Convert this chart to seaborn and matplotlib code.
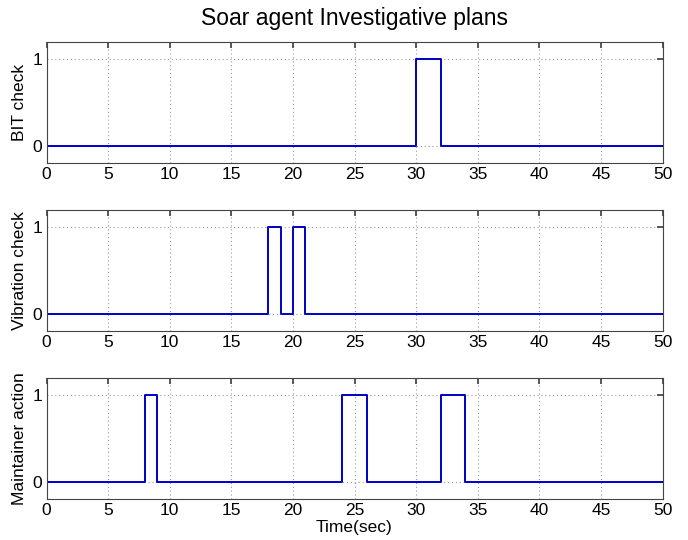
import matplotlib
matplotlib.use("Agg")
import matplotlib.pyplot as plt
import seaborn as sns
import pandas as pd

sns.set_theme(style="white")
plt.rcParams['font.family'] = ['Liberation Sans', 'DejaVu Sans']
plt.rcParams['text.color'] = 'black'
plt.rcParams['axes.labelcolor'] = 'black'

title = "Soar agent Investigative plans"
xlabel = "Time(sec)"
ylabels = ["BIT check", "Vibration check", "Maintainer action"]

# step transitions (time, value) held until next time
bit_t = [0, 30, 32, 50]
bit_v = [0, 1, 0, 0]
vib_t = [0, 18, 19, 20, 21, 50]
vib_v = [0, 1, 0, 1, 0, 0]
mnt_t = [0, 8, 9, 24, 26, 32, 34, 50]
mnt_v = [0, 1, 0, 1, 0, 1, 0, 0]

xticks = [0, 5, 10, 15, 20, 25, 30, 35, 40, 45, 50]
yticks = [0, 1]

series = [(bit_t, bit_v), (vib_t, vib_v), (mnt_t, mnt_v)]

fig = plt.figure(figsize=(6.88, 5.4), dpi=100)
left = 46.5 / 688
width = 616 / 688
tops = [42, 210, 378]
h = 121
axes = []
for i, (tt, vv) in enumerate(series):
    ax = fig.add_axes([left, 1 - (tops[i] + h) / 540, width, h / 540])
    df = pd.DataFrame({"t": tt, "v": vv})
    sns.lineplot(data=df, x="t", y="v", ax=ax, drawstyle="steps-post",
                 color="#0000c8", linewidth=1.4, estimator=None, sort=False)
    ax.set_xlim(0, 50)
    ax.set_ylim(-0.2, 1.2)
    ax.set_xticks(xticks)
    ax.set_yticks(yticks)
    ax.set_xticklabels([str(x) for x in xticks], fontsize=12.5)
    ax.set_yticklabels([str(y) for y in yticks], fontsize=12.5)
    ax.set_ylabel(ylabels[i], fontsize=12.5, labelpad=4, color="black")
    ax.set_xlabel(xlabel if i == 2 else "", fontsize=12.5, labelpad=1,
                  color="black")
    ax.grid(True, linestyle=(0, (1, 2.5)), color="#999999", linewidth=0.8)
    ax.tick_params(direction="in", length=4, top=True, right=True,
                   color="#444444", pad=3, labelcolor="black")
    for s in ax.spines.values():
        s.set_visible(True)
        s.set_color("#444444")
        s.set_linewidth(0.8)
    ax.set_facecolor("white")
    axes.append(ax)

fig.text(left + width / 2, 1 - 18 / 540, title, ha="center",
         va="center", fontsize=16.5, color="black")
fig.savefig("out.png", dpi=100, facecolor="white")
